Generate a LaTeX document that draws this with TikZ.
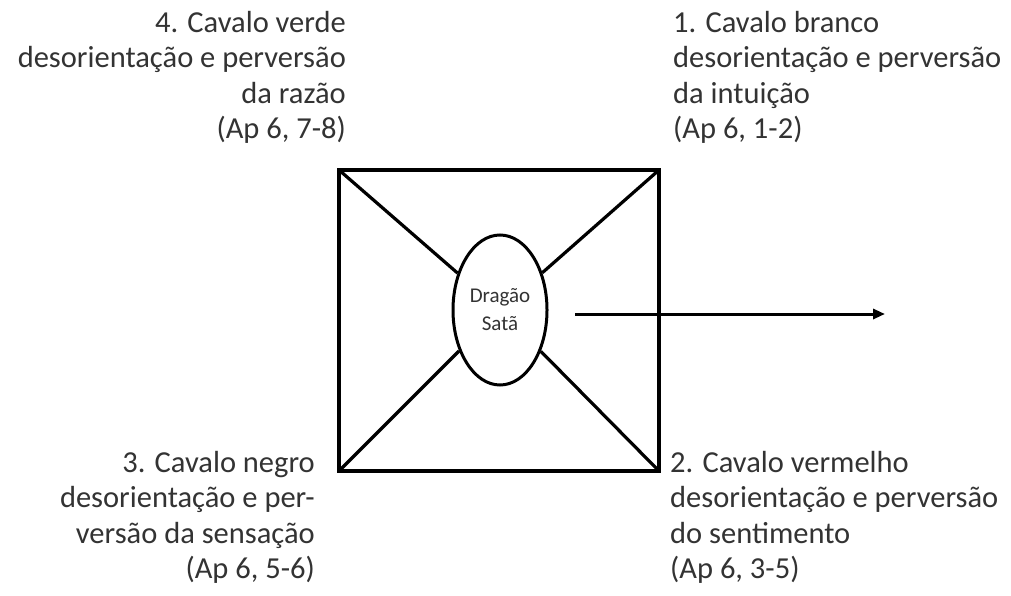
\documentclass[tikz,border=0pt]{standalone}
\usepackage{fontspec}
\setmainfont{Carlito}
\usetikzlibrary{arrows.meta,shapes.geometric}
\definecolor{txt}{HTML}{333333}
\begin{document}
\begin{tikzpicture}[x=1pt,y=-1pt,
  lbl/.style={inner sep=0pt,text=txt,font=\fontsize{30.5}{35.5}\selectfont},
  frame/.style={line width=4pt,line join=miter},
  spoke/.style={line width=3.2pt},
]
\useasboundingbox[fill=white] (0,0) rectangle (1011,596);
% square
\coordinate (tl) at (339,170);
\coordinate (tr) at (659,170);
\coordinate (br) at (659,471);
\coordinate (bl) at (339,471);
\draw[frame] (tl) -- (tr) -- (br) -- (bl) -- cycle;
% ellipse
\node[ellipse,draw,line width=3pt,minimum width=94pt,minimum height=150pt,inner sep=0pt,
      align=center,text=txt,font=\fontsize{21}{28}\selectfont] (ell) at (500,310) {Dragão\\Satã};
\draw[spoke] (tl) -- (ell);
\draw[spoke] (tr) -- (ell);
\draw[spoke] (br) -- (ell);
\draw[spoke] (bl) -- (ell);
% arrow
\coordinate (a1) at (575,314);
\coordinate (a2) at (885,314);
\draw[line width=3pt,-{Triangle[length=12pt,width=10pt]}] (a1) -- (a2);
% labels
\node[lbl,align=right,anchor=north east] (l4) at (346,7) {\strut 4. Cavalo verde\\desorientação e perversão\\da razão\\(Ap 6, 7-8)};
\node[lbl,align=left,anchor=north west] (l1) at (673,7) {\strut 1. Cavalo branco\\desorientação e perversão\\da intuição\\(Ap 6, 1-2)};
\node[lbl,align=right,anchor=north east] (l3) at (315,447) {\strut 3. Cavalo negro\\desorientação e per-\\versão da sensação\\(Ap 6, 5-6)};
\node[lbl,align=left,anchor=north west] (l2) at (670,447) {\strut 2. Cavalo vermelho\\desorientação e perversão\\do sentimento\\(Ap 6, 3-5)};
\end{tikzpicture}
\end{document}
